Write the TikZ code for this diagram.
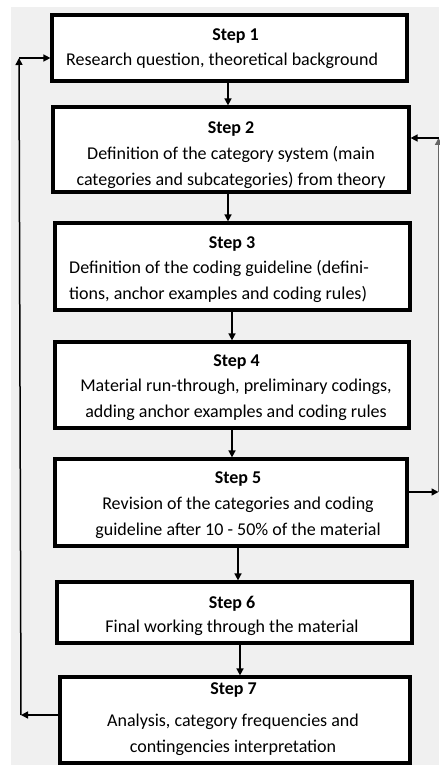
\documentclass[tikz,border=0pt]{standalone}
\usepackage{fontspec}
\setmainfont{Carlito}
\usetikzlibrary{arrows.meta}
\begin{document}
\begin{tikzpicture}[x=1pt,y=-1pt,
  stepbox/.style={draw=black,line width=3.2pt,fill=white,inner sep=0pt},
  ttl/.style={font=\fontsize{18}{26}\selectfont\bfseries,inner sep=0pt,anchor=base},
  body/.style={font=\fontsize{18}{26}\selectfont,inner sep=0pt,anchor=base},
  arr/.style={line width=1.5pt,-{Triangle[length=7pt,width=7pt]}},
  fb/.style={line width=1.5pt}]
\useasboundingbox (0,0) rectangle (439,767);
\fill[black!6] (11,7) rectangle (439,765);
% boxes
\node[stepbox,minimum width=355pt,minimum height=66pt] (s1) at (229.5,48) {};
\node[stepbox,minimum width=356pt,minimum height=85pt] (s2) at (231,149.5) {};
\node[stepbox,minimum width=355pt,minimum height=87pt] (s3) at (232.5,266.5) {};
\node[stepbox,minimum width=354pt,minimum height=86pt] (s4) at (232,385) {};
\node[stepbox,minimum width=352pt,minimum height=87pt] (s5) at (231,502.5) {};
\node[stepbox,minimum width=355pt,minimum height=61pt] (s6) at (234.5,612.5) {};
\node[stepbox,minimum width=350pt,minimum height=86pt] (s7) at (235,720) {};
% texts
\node[ttl] (t1) at (235.5,41) {Step 1};
\node[body,anchor=base west] (b1) at (66,66) {Research question, theoretical background};
\node[ttl] (t2) at (231,134) {Step 2};
\node[body,align=center] (b2) at (231,186) {Definition of the category system (main\\categories and subcategories) from theory};
\node[ttl] (t3) at (232,248) {Step 3};
\node[body,align=left,anchor=base west] (b3) at (69,299) {Definition of the coding guideline (defini-\\tions, anchor examples and coding rules)};
\node[ttl] (t4) at (236.5,366) {Step 4};
\node[body,align=center] (b4) at (236,417) {Material run-through, preliminary codings,\\adding anchor examples and coding rules};
\node[ttl] (t5) at (238,483) {Step 5};
\node[body,align=center] (b5) at (238,535) {Revision of the categories and coding\\guideline after 10 - 50\% of the material};
\node[ttl] (t6) at (232,608) {Step 6};
\node[body] (b6) at (232,632) {Final working through the material};
\node[ttl] (t7) at (233.5,694) {Step 7};
\node[body,align=center] (b7) at (233,752) {Analysis, category frequencies and\\contingencies interpretation};
% arrows down
\draw[arr] (s1.south -| 228,0) -- (s2.north -| 228,0);
\draw[arr] (s2.south -| 228,0) -- (s3.north -| 228,0);
\draw[arr] (s3.south -| 232,0) -- (s4.north -| 232,0);
\draw[arr] (s4.south -| 232,0) -- (s5.north -| 232,0);
\draw[arr] (s5.south -| 238,0) -- (s6.north -| 238,0);
\draw[arr] (s6.south -| 240,0) -- (s7.north -| 240,0);
% feedback left
\coordinate (lb) at (21,715);
\coordinate (lt) at (19,58);
\draw[arr] (s7.west |- lb) -- (lb);
\draw[arr] (lb) -- (lt);
\draw[arr] (lt) -- (s1.west |- lt);
% feedback right
\coordinate (rb) at (438.5,492);
\coordinate (rt) at (438.5,138);
\draw[arr] (s5.east |- rb) -- (rb);
\draw[arr,black!60] (rb) -- (rt);
\draw[arr] (rt) -- (s2.east |- rt);
\end{tikzpicture}
\end{document}
